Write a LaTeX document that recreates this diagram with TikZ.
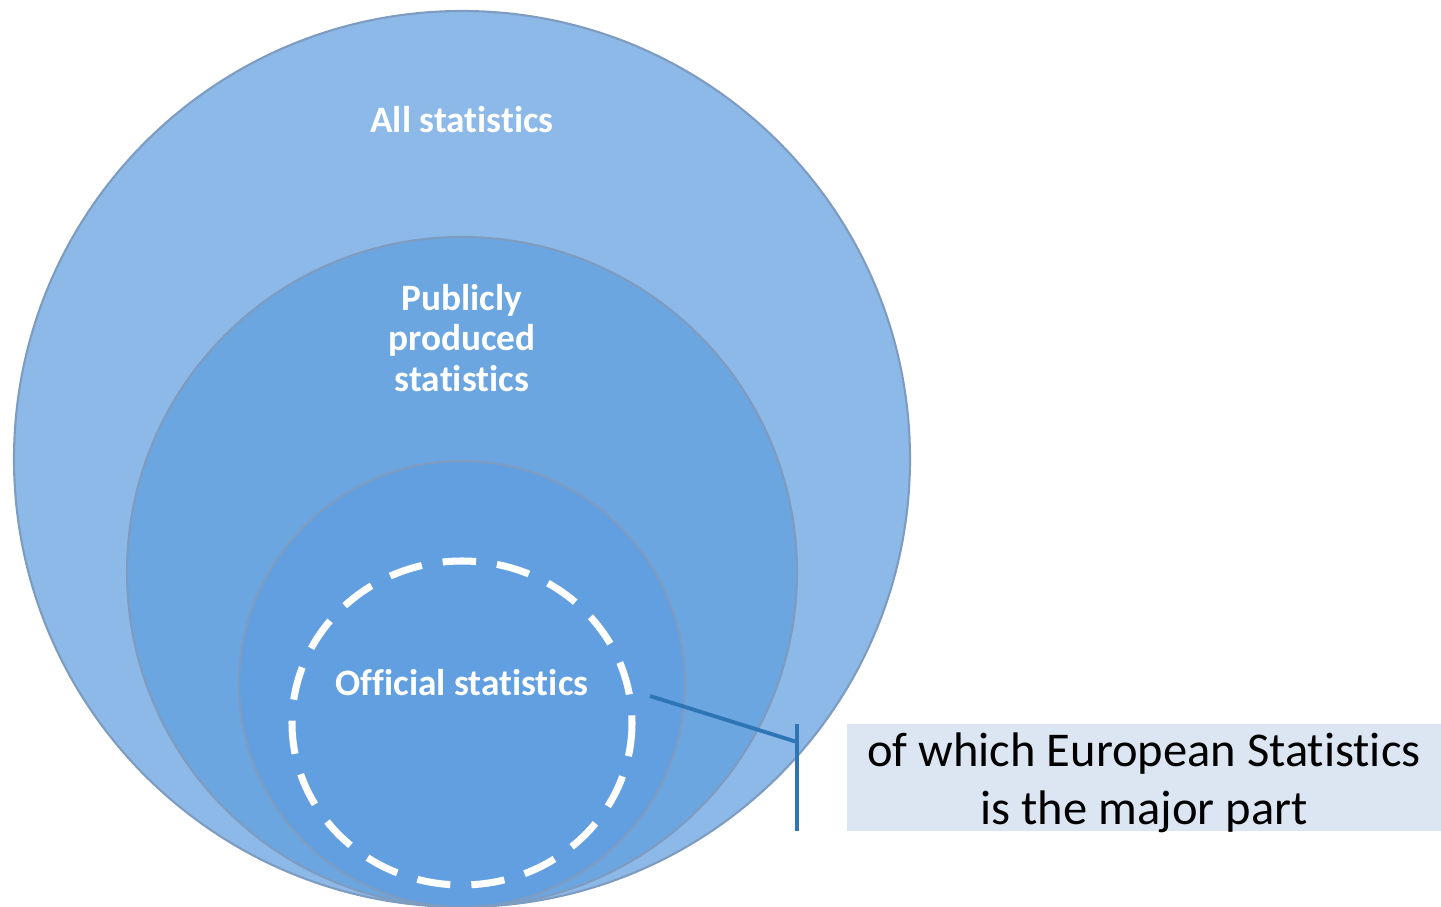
\documentclass[tikz,border=0pt]{standalone}
\usepackage{fontspec}
\setmainfont[Ligatures=NoCommon]{Carlito}
\usepackage{tikz}
\usetikzlibrary{positioning}
\definecolor{outerblue}{HTML}{8DB9E9}
\definecolor{midblue}{HTML}{6CA6E1}
\definecolor{innerblue}{HTML}{629FE0}
\definecolor{rimblue}{HTML}{7E9CC0}
\definecolor{notefill}{HTML}{DCE6F2}
\definecolor{linkblue}{HTML}{2E75B6}
\tikzstyle{ring} = [circle, draw=rimblue, line width=0.6pt]
\tikzstyle{label} = [text=white, font=\fontsize{10.6}{11.6}\selectfont\bfseries, align=center]
\tikzstyle{notebox} = [rectangle, fill=notefill, minimum width=5.94cm, minimum height=1.07cm, inner sep=0pt]
\tikzstyle{notetext} = [inner sep=0pt, align=center, font=\fontsize{13.8}{16.4}\selectfont]
\tikzstyle{link} = [draw=linkblue, line width=1.1pt]

\begin{document}
\begin{tikzpicture}[x=0.01cm, y=-0.01cm]
        \useasboundingbox (0,0) rectangle (1441,907);
        \begin{scope}
        \clip (0,0) rectangle (1441,907);
        \draw [ring, fill=outerblue] (462,459) circle (448);
        \draw [ring, fill=midblue] (462,572) circle (335);
        \draw [ring, fill=innerblue] (462,684) circle (223);
        \draw [white, line width=2pt, dash pattern=on 9.5pt off 6pt] (462,723) ellipse (170 and 162);
        \end{scope}

        \node (all) [label] at (462,120) {All statistics};
        \node (public) [label] at (462,338) {Publicly\\produced\\statistics};
        \node (official) [label] at (462,683) {Official statistics};

        \node (note) [notebox] at (1144,777.5) {};
        \node (notetext) [notetext] at ([yshift=-0.055cm]note.center) {of which European Statistics\\is the major part};
        \coordinate (bartop) at (797,724);
        \coordinate (barbot) at (797,831);
        \coordinate (barjoin) at (797,742);
        \coordinate (pointer) at (650,696);
        \draw [link] (bartop) -- (barbot);
        \draw [link] (pointer) -- (barjoin);
    \end{tikzpicture}
\end{document}
